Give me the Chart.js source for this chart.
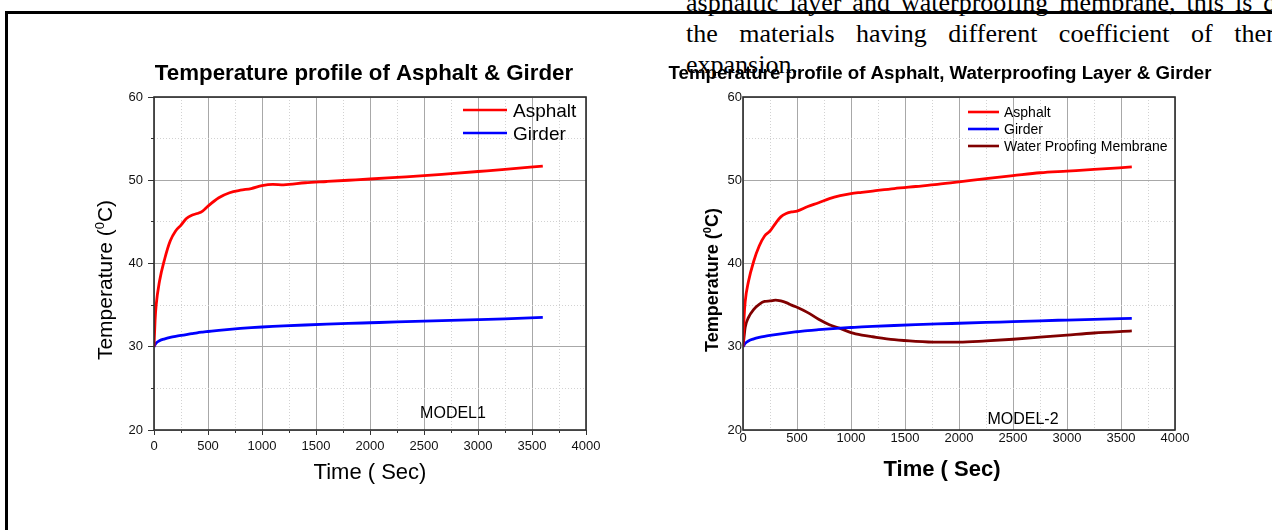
<!DOCTYPE html>
<html>
<head>
<meta charset="utf-8">
<script src="https://cdn.jsdelivr.net/npm/chart.js@4.4.0/dist/chart.umd.min.js"></script>
<style>
  html, body { margin: 0; padding: 0; background: #fff; }
  body { width: 1272px; height: 530px; position: relative; overflow: hidden; }
  .frame { position: absolute; left: 5px; top: 11px; width: 1400px; height: 600px;
           border-left: 3px solid #000; border-top: 3px solid #000; }
  .para { position: absolute; left: 686px; font: 26px "Liberation Serif", "Times New Roman", serif;
          line-height: 31px; white-space: nowrap; color: #000; }
  .panel { position: absolute; top: 0; width: 636px; height: 530px; }
</style>
</head>
<body>
<div class="frame"></div>
<div class="para" style="top:-13px; word-spacing:4.5px;">asphaltic layer and waterproofing membrane, this is due to</div>
<div class="para" style="top:18px; word-spacing:15px;">the materials having different coefficient of thermal</div>
<div class="para" style="top:49px;">expansion.</div>
<div class="panel" style="left:0;"><canvas id="model1"></canvas></div>
<div class="panel" style="left:636px;"><canvas id="model2"></canvas></div>
<script>
// --- Data ---
const timeSec = [0, 10, 20, 50, 100, 150, 200, 250, 300, 350, 400, 450, 500, 600, 700, 800, 900, 1000,
                 1100, 1200, 1400, 1600, 1800, 2000, 2250, 2500, 2750, 3000, 3250, 3600];

// Model 1
const asphalt1 = [30, 33.2, 35, 37.8, 40.6, 42.7, 43.9, 44.6, 45.4, 45.8, 46.0, 46.3, 46.9, 47.9, 48.5, 48.8, 49.0, 49.35,
                  49.5, 49.45, 49.7, 49.85, 50.0, 50.15, 50.35, 50.55, 50.8, 51.05, 51.3, 51.7];
const girder1 = [30, 30.25, 30.45, 30.72, 30.95, 31.12, 31.25, 31.36, 31.46, 31.57, 31.68, 31.76, 31.83, 31.97, 32.09, 32.2, 32.29, 32.37,
                 32.44, 32.5, 32.61, 32.71, 32.8, 32.88, 32.98, 33.07, 33.16, 33.25, 33.35, 33.52];

// Model 2
const asphalt2 = [30, 33.5, 35.4, 37.8, 40.3, 42.1, 43.3, 43.9, 44.8, 45.6, 46.0, 46.2, 46.3, 46.85, 47.3, 47.8, 48.15, 48.4,
                  48.55, 48.7, 49.0, 49.25, 49.5, 49.8, 50.2, 50.55, 50.9, 51.1, 51.3, 51.6];
const girder2 = [30, 30.2, 30.4, 30.7, 30.95, 31.12, 31.25, 31.36, 31.46, 31.56, 31.65, 31.73, 31.8, 31.94, 32.05, 32.15, 32.24, 32.31,
                 32.38, 32.44, 32.55, 32.65, 32.74, 32.82, 32.92, 33.02, 33.12, 33.21, 33.3, 33.42];
const membrane2 = [30, 31.2, 32.3, 33.5, 34.5, 35.1, 35.45, 35.5, 35.6, 35.5, 35.3, 35.0, 34.75, 34.1, 33.3, 32.65, 32.2, 31.7,
                   31.4, 31.2, 30.85, 30.65, 30.55, 30.55, 30.7, 30.9, 31.15, 31.4, 31.65, 31.9];

// Axes
const xMin = 0, xMax = 4000, xMajor = 500, xMinor = 250;
const yMin = 20, yMax = 60, yMajor = 10, yMinor = 5;

// Texts
const title1 = 'Temperature profile of Asphalt & Girder';
const title2 = 'Temperature profile of Asphalt, Waterproofing Layer & Girder';
const xTitle = 'Time ( Sec)';
const yTitleParts = [{ t: 'Temperature (' }, { t: '0', sup: true }, { t: 'C)' }];
const note1 = 'MODEL1';
const note2 = 'MODEL-2';

const FONT = '"Liberation Sans", Arial, sans-serif';
const toPoints = (vals) => timeSec.map((t, i) => ({ x: t, y: vals[i] }));

// --- Plugins: free text, legend inside plot, box round the plot ---
const textPlugin = {
    id: 'pageText',
    afterDraw(chart, args, opts) {
        const ctx = chart.ctx;
        (opts.items || []).forEach(item => {
            ctx.save();
            ctx.translate(item.x, item.y);
            if (item.rotate) ctx.rotate(item.rotate);
            ctx.fillStyle = '#000';
            ctx.textBaseline = 'alphabetic';
            ctx.textAlign = 'left';
            const weight = item.bold ? 'bold ' : '';
            const fontOf = p => `${weight}${p.sup ? item.size * 0.62 : item.size}px ${FONT}`;
            const parts = item.parts || [{ t: item.text }];
            let total = 0;
            parts.forEach(p => { ctx.font = fontOf(p); total += ctx.measureText(p.t).width; });
            let x = -total / 2;
            parts.forEach(p => {
                ctx.font = fontOf(p);
                ctx.fillText(p.t, x, p.sup ? -item.size * 0.4 : 0);
                x += ctx.measureText(p.t).width;
            });
            ctx.restore();
        });
    }
};

const legendPlugin = {
    id: 'innerLegend',
    afterDraw(chart, args, o) {
        const ctx = chart.ctx;
        ctx.save();
        ctx.font = `${o.size}px ${FONT}`;
        ctx.textBaseline = 'alphabetic';
        ctx.fillStyle = '#000';
        chart.data.datasets.forEach((ds, i) => {
            const y = o.y + i * o.rowH;
            ctx.strokeStyle = ds.borderColor;
            ctx.lineWidth = o.lineWidth;
            ctx.beginPath();
            ctx.moveTo(o.x, y);
            ctx.lineTo(o.x + o.lineLen, y);
            ctx.stroke();
            ctx.fillText(ds.label, o.x + o.lineLen + o.gap, y + o.size * 0.36);
        });
        ctx.restore();
    }
};

const boxPlugin = {
    id: 'plotBox',
    afterDatasetsDraw(chart) {
        const { ctx, chartArea: a } = chart;
        ctx.save();
        ctx.strokeStyle = '#2a2a2a';
        ctx.lineWidth = 1.6;
        ctx.strokeRect(a.left, a.top, a.right - a.left, a.bottom - a.top);
        ctx.restore();
    }
};

const makeChart = (id, s) => {
    const datasets = s.series.map(d => ({
        label: d.label,
        data: toPoints(d.values),
        borderColor: d.color,
        borderWidth: 2.8,
        pointRadius: 0,
        cubicInterpolationMode: 'monotone',
        fill: false
    }));
    const minorColor = (step) => (c) => (c.tick && c.tick.value % step === 0) ? 'rgba(0,0,0,0)' : '#d2d2d2';
    const plain = v => String(v);
    return new Chart(document.getElementById(id), {
        type: 'line',
        data: { datasets },
        options: {
            responsive: true,
            maintainAspectRatio: false,
            animation: false,
            devicePixelRatio: 1,
            layout: { padding: { top: 97, right: s.rightPad, left: 0, bottom: 0 } },
            plugins: {
                legend: { display: false },
                tooltip: { enabled: false },
                pageText: { items: s.texts },
                innerLegend: s.legend
            },
            scales: {
                x: {
                    type: 'linear', position: 'bottom', weight: 1, min: xMin, max: xMax,
                    ticks: { stepSize: xMajor, callback: plain, color: '#111', font: { family: FONT, size: 13 }, padding: s.xPad, maxRotation: 0 },
                    grid: { color: '#a8a8a8', lineWidth: 1, drawTicks: s.ticks, tickLength: 5, tickColor: '#333' },
                    border: { display: false },
                    afterFit: sc => { sc.height = 100; }
                },
                xm: {
                    type: 'linear', position: 'bottom', weight: 0, min: xMin, max: xMax,
                    ticks: { display: false, stepSize: xMinor },
                    grid: { color: minorColor(xMajor), lineWidth: 1, drawTicks: s.ticks, tickLength: 3, tickColor: '#333' },
                    border: { display: false, dash: [1, 2] },
                    afterFit: sc => { sc.height = 0; }
                },
                y: {
                    type: 'linear', position: 'left', weight: 1, min: yMin, max: yMax,
                    ticks: { stepSize: yMajor, callback: plain, color: '#111', font: { family: FONT, size: 13 }, padding: s.yPad },
                    grid: { color: '#a8a8a8', lineWidth: 1, drawTicks: s.ticks, tickLength: 6, tickColor: '#333' },
                    border: { display: false },
                    afterFit: sc => { sc.width = s.yWidth; }
                },
                ym: {
                    type: 'linear', position: 'left', weight: 0, min: yMin, max: yMax,
                    ticks: { display: false, stepSize: yMinor },
                    grid: { color: minorColor(yMajor), lineWidth: 1, drawTicks: s.ticks, tickLength: 3, tickColor: '#333' },
                    border: { display: false, dash: [1, 2] },
                    afterFit: sc => { sc.width = 0; }
                }
            }
        },
        plugins: [textPlugin, legendPlugin, boxPlugin]
    });
};

// --- MODEL 1 ---
makeChart('model1', {
    yWidth: 154, rightPad: 50, ticks: true, xPad: 4, yPad: 5,
    series: [
        { label: 'Asphalt', values: asphalt1, color: '#ff0000' },
        { label: 'Girder', values: girder1, color: '#0000ff' }
    ],
    legend: { x: 463, y: 110, rowH: 23, lineLen: 44, gap: 6, size: 19, lineWidth: 2.6 },
    texts: [
        { text: title1, x: 364, y: 80, size: 22.3, bold: true },
        { text: xTitle, x: 370, y: 479, size: 22 },
        { parts: yTitleParts, x: 112, y: 280, size: 21, rotate: -Math.PI / 2 },
        { text: note1, x: 453, y: 418, size: 16 }
    ]
});

// --- MODEL 2 ---
makeChart('model2', {
    yWidth: 107, rightPad: 97, ticks: false, xPad: 1, yPad: 1,
    series: [
        { label: 'Asphalt', values: asphalt2, color: '#ff0000' },
        { label: 'Girder', values: girder2, color: '#0000ff' },
        { label: 'Water Proofing Membrane', values: membrane2, color: '#800000' }
    ],
    legend: { x: 332, y: 112, rowH: 17, lineLen: 31, gap: 5, size: 14, lineWidth: 2.6 },
    texts: [
        { text: title2, x: 304, y: 79, size: 18.7, bold: true },
        { text: xTitle, x: 306, y: 476, size: 22, bold: true },
        { parts: yTitleParts, x: 82, y: 280, size: 18, bold: true, rotate: -Math.PI / 2 },
        { text: note2, x: 387, y: 424, size: 16 }
    ]
});
</script>
</body>
</html>
